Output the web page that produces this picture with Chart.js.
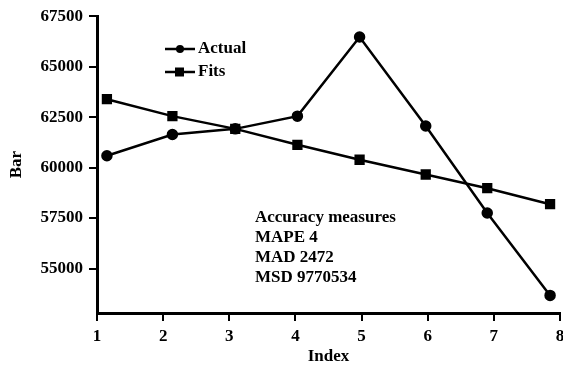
<!DOCTYPE html>
<html>
<head>
<meta charset="utf-8">
<script src="https://cdn.jsdelivr.net/npm/chart.js@4/dist/chart.umd.min.js"></script>
<style>
	html, body { margin: 0; padding: 0; background: #fff; overflow: hidden; }
	canvas { display: block; }
</style>
</head>
<body>
<canvas id="chart" width="575" height="367"></canvas>
<script>
	// ===== DATA =====
	const indexActual = [1.15, 2.14, 3.09, 4.03, 4.97, 5.97, 6.9, 7.85];
	const actualValues = [60590, 61640, 61920, 62550, 66470, 62060, 57750, 53670];
	const indexFits = [1.15, 2.14, 3.09, 4.03, 4.97, 5.97, 6.9, 7.85];
	const fitValues = [63390, 62550, 61920, 61130, 60390, 59660, 58980, 58190];
	const yTickValues = [55000, 57500, 60000, 62500, 65000, 67500];
	const xTickValues = [1, 2, 3, 4, 5, 6, 7, 8];
	const accuracyLines = ['Accuracy measures', 'MAPE 4', 'MAD 2472', 'MSD 9770534'];

	const FONT = '"Liberation Serif", "DejaVu Serif", serif';
	const tickFont = { family: FONT, size: 17, weight: 'bold' };

	// legend + accuracy text drawn inside the plot
	const overlay = {
		id: 'overlay',
		afterDraw(chart) {
			const ctx = chart.ctx;
			ctx.save();
			ctx.font = 'bold 17px ' + FONT;
			ctx.fillStyle = '#000';
			ctx.textBaseline = 'middle';

			const items = [
				{ label: 'Actual', y: 49, style: 'circle' },
				{ label: 'Fits', y: 72, style: 'rect' }
			];
			items.forEach(it => {
				ctx.strokeStyle = '#000';
				ctx.lineWidth = 2.5;
				ctx.beginPath();
				ctx.moveTo(165, it.y);
				ctx.lineTo(195, it.y);
				ctx.stroke();
				ctx.beginPath();
				if (it.style === 'circle') {
					ctx.arc(180, it.y, 4, 0, Math.PI * 2);
				} else {
					ctx.rect(175, it.y - 4.5, 9, 9);
				}
				ctx.fill();
				ctx.fillText(it.label, 198, it.y);
			});

			accuracyLines.forEach((t, i) => {
				ctx.fillText(t, 255, 218 + i * 20);
			});
			ctx.restore();
		}
	};

	const ctx = document.getElementById('chart').getContext('2d');
	new Chart(ctx, {
		type: 'line',
		data: {
			datasets: [{
				label: 'Actual',
				data: indexActual.map((x, i) => ({ x: x, y: actualValues[i] })),
				borderColor: '#000',
				backgroundColor: '#000',
				borderWidth: 2.5,
				pointStyle: 'circle',
				pointRadius: 4.5,
				tension: 0
			}, {
				label: 'Fits',
				data: indexFits.map((x, i) => ({ x: x, y: fitValues[i] })),
				borderColor: '#000',
				backgroundColor: '#000',
				borderWidth: 2.5,
				pointStyle: 'rect',
				pointRadius: 5.5,
				tension: 0
			}]
		},
		options: {
			responsive: false,
			animation: false,
			layout: { padding: { top: 14, right: 15, left: 0, bottom: 0 } },
			plugins: {
				legend: { display: false },
				tooltip: { enabled: false }
			},
			scales: {
				x: {
					type: 'linear',
					min: 1,
					max: 8,
					afterBuildTicks: s => { s.ticks = xTickValues.map(v => ({ value: v })); },
					afterFit: s => { s.height = 54; },
					border: { color: '#000', width: 3 },
					grid: { drawOnChartArea: false, color: '#000', lineWidth: 2, tickLength: 8 },
					ticks: { color: '#000', padding: 5, font: tickFont, maxRotation: 0, callback: v => String(v) },
					title: { display: true, text: 'Index', color: '#000', padding: { top: 0, bottom: 0 }, font: tickFont }
				},
				y: {
					min: 52800,
					max: 67500,
					afterBuildTicks: s => { s.ticks = yTickValues.map(v => ({ value: v })); },
					afterFit: s => { s.width = 97; },
					border: { color: '#000', width: 3 },
					grid: { drawOnChartArea: false, color: '#000', lineWidth: 2, tickLength: 8 },
					ticks: { color: '#000', padding: 6, font: tickFont, callback: v => String(v) },
					title: { display: true, text: 'Bar', color: '#000', padding: { top: 6, bottom: 0 }, font: tickFont }
				}
			}
		},
		plugins: [overlay]
	});
</script>
</body>
</html>
